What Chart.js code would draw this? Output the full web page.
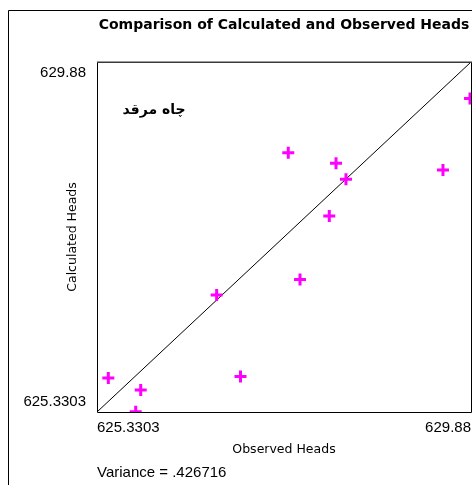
<!DOCTYPE html>
<html>
<head>
<meta charset="utf-8">
<style>
  html, body { margin: 0; padding: 0; background: #fff; }
  #wrap { width: 472px; height: 485px; }
</style>
<script src="https://cdn.jsdelivr.net/npm/chart.js@4/dist/chart.umd.min.js"></script>
</head>
<body>
<div id="wrap"><canvas id="chart" width="472" height="485"></canvas></div>
<script>
// Axis range shared by both axes
const axisMin = 625.3303;
const axisMax = 629.88;

// Tick labels
const xTickLabels = ['625.3303', '629.88'];
const yTickLabels = ['625.3303', '629.88'];

// Observation wells: observed vs calculated heads
const observedHeads   = [627.657, 628.238, 628.359, 628.156, 629.539, 629.868, 627.800, 626.786, 625.468, 625.862, 625.801, 627.076];
const calculatedHeads = [628.701, 628.563, 628.355, 627.878, 628.476, 629.405, 627.053, 626.851, 625.772, 625.616, 625.334, 625.792];

// 1:1 reference line
const diagonalX = [625.3303, 629.88];
const diagonalY = [625.3303, 629.88];

const wellName = 'چاه مرقد';
const varianceText = 'Variance = .426716';

const scatterPoints = observedHeads.map((x, i) => ({ x: x, y: calculatedHeads[i] }));
const diagonalPoints = diagonalX.map((x, i) => ({ x: x, y: diagonalY[i] }));

const framePlugin = {
  id: 'frame',
  beforeDraw(chart) {
    const ctx = chart.ctx;
    ctx.save();
    ctx.fillStyle = '#fff';
    ctx.fillRect(0, 0, chart.width, chart.height);
    ctx.strokeStyle = '#000';
    ctx.lineWidth = 1;
    ctx.beginPath();
    ctx.moveTo(8.5, chart.height);
    ctx.lineTo(8.5, 10.5);
    ctx.lineTo(chart.width, 10.5);
    ctx.stroke();
    ctx.restore();
  },
  afterDatasetsDraw(chart) {
    const ctx = chart.ctx;
    const a = chart.chartArea;
    ctx.save();
    ctx.strokeStyle = '#000';
    ctx.lineWidth = 1;
    ctx.beginPath();
    ctx.moveTo(a.left + 0.5, a.top);
    ctx.lineTo(a.left + 0.5, a.bottom + 0.5);
    ctx.lineTo(a.right + 0.5, a.bottom + 0.5);
    ctx.lineTo(a.right + 0.5, a.top);
    ctx.stroke();
    ctx.strokeStyle = '#3a3a3a';
    ctx.lineWidth = 1.6;
    ctx.beginPath();
    ctx.moveTo(a.left, a.top + 0.3);
    ctx.lineTo(a.right + 1, a.top + 0.3);
    ctx.stroke();
    // well name inside the plot
    ctx.fillStyle = '#000';
    ctx.font = 'bold 14px "DejaVu Sans", sans-serif';
    ctx.textAlign = 'center';
    ctx.textBaseline = 'middle';
    ctx.fillText(wellName, a.left + 57, a.top + 48);
    ctx.restore();
  }
};

new Chart(document.getElementById('chart'), {
  data: {
    datasets: [
      {
        type: 'line',
        data: diagonalPoints,
        borderColor: '#000',
        borderWidth: 1,
        pointRadius: 0,
        fill: false,
        clip: 0,
        order: 2
      },
      {
        type: 'scatter',
        data: scatterPoints,
        pointStyle: 'cross',
        pointRadius: 6,
        pointHoverRadius: 6,
        borderColor: '#ff00ff',
        backgroundColor: '#ff00ff',
        pointBorderWidth: 3,
        borderWidth: 3,
        clip: 0,
        order: 1
      }
    ]
  },
  options: {
    responsive: false,
    animation: false,
    events: [],
    layout: { autoPadding: false, padding: { left: 0, right: 1, top: 0, bottom: 3.5 } },
    plugins: {
      legend: { display: false },
      tooltip: { enabled: false },
      title: {
        display: true,
        text: 'Comparison of Calculated and Observed Heads',
        fullSize: false,
        align: 'center',
        color: '#000',
        font: { family: '"DejaVu Sans", sans-serif', size: 14, weight: 'bold', lineHeight: 1.2 },
        padding: { top: 16.6, bottom: 28.6 }
      },
      subtitle: {
        display: true,
        position: 'bottom',
        fullSize: false,
        align: 'start',
        text: varianceText,
        color: '#000',
        font: { family: '"Liberation Sans", Arial, sans-serif', size: 15, lineHeight: 1.2 },
        padding: 0
      }
    },
    scales: {
      x: {
        type: 'linear',
        position: 'bottom',
        min: axisMin,
        max: axisMax,
        grid: { display: true, drawOnChartArea: false, drawTicks: true, tickLength: 6.5, tickColor: 'rgba(0,0,0,0)' },
        border: { display: false },
        afterBuildTicks(scale) { scale.ticks = [{ value: axisMin }, { value: axisMax }]; },
        afterFit(scale) { scale.height = 51.5; },
        ticks: {
          autoSkip: false,
          maxRotation: 0,
          align: 'inner',
          padding: 0,
          color: '#000',
          font: { family: '"Liberation Sans", Arial, sans-serif', size: 15, lineHeight: 1.2 },
          callback: (v, i) => xTickLabels[i]
        },
        title: {
          display: true,
          text: 'Observed Heads',
          color: '#000',
          font: { family: '"DejaVu Sans", sans-serif', size: 12.5, lineHeight: 1.2 },
          padding: { top: 0, bottom: 6 }
        }
      },
      y: {
        type: 'linear',
        position: 'left',
        min: axisMin,
        max: axisMax,
        grid: { display: false },
        border: { display: false },
        afterBuildTicks(scale) { scale.ticks = [{ value: axisMin }, { value: axisMax }]; },
        afterFit(scale) { scale.width = 97; },
        ticks: {
          autoSkip: false,
          padding: 3,
          color: '#000',
          font: { family: '"Liberation Sans", Arial, sans-serif', size: 15, lineHeight: '21px' },
          callback: (v, i) => (i === 0 ? [yTickLabels[0], ''] : ['', yTickLabels[1]])
        },
        title: {
          display: true,
          text: 'Calculated Heads',
          color: '#000',
          font: { family: '"DejaVu Sans", sans-serif', size: 12.5, lineHeight: 1.2 },
          padding: { top: 65.5, bottom: 0 }
        }
      }
    }
  },
  plugins: [framePlugin]
});
</script>
</body>
</html>
